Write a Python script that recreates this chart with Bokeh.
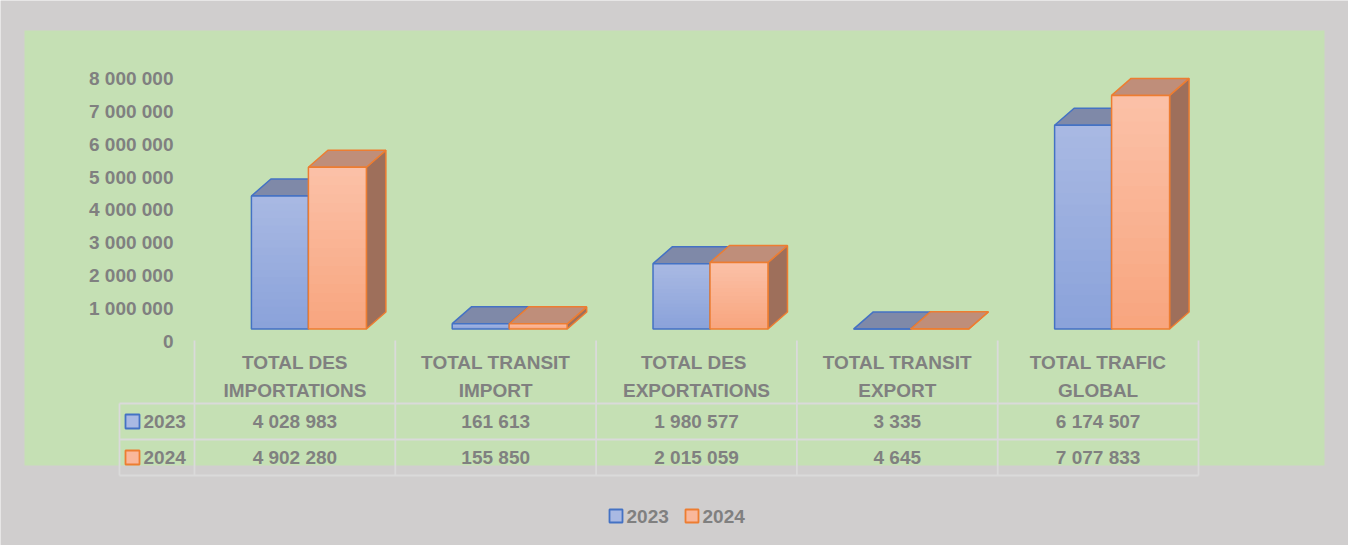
import numpy as np
from bokeh.plotting import figure
from bokeh.models import Range1d
from bokeh.core.properties import value
from bokeh.embed import file_html
from bokeh.resources import INLINE

# ---------------- data ----------------
categories = ["TOTAL DES\nIMPORTATIONS", "TOTAL TRANSIT\nIMPORT", "TOTAL  DES\nEXPORTATIONS",
              "TOTAL TRANSIT\nEXPORT", "TOTAL TRAFIC\nGLOBAL"]
series_names = ["2023", "2024"]
values_2023 = [4028983, 161613, 1980577, 3335, 6174507]
values_2024 = [4902280, 155850, 2015059, 4645, 7077833]
y_ticks = [0, 1000000, 2000000, 3000000, 4000000, 5000000, 6000000, 7000000, 8000000]


def fmt(v):
    return f"{int(v):,}".replace(",", " ")


y_tick_labels = [fmt(t) for t in y_ticks]

# ---------------- layout / style ----------------
W, H = 1348, 545
COL0, COLW = 194.0, 200.8          # table column start (px) and width (px)
BASE_PX, PX_PER_M = 328.5, 33.0    # bar baseline (px from top) and scale
AXIS0_PX, AXIS_PX_PER_M = 340.5, 32.8

GRAY = "#d0cece"
GREEN = "#c5e0b4"
TXT = "#808080"
GRID = "#dadada"
FONT = value("Liberation Sans")
FS = "19px"

series_style = [
    dict(edge="#4472c4", top_c=(0xa9, 0xb9, 0xe3), bot_c=(0x8a, 0xa2, 0xda),
         lid="#7f89a8", side="#6f7fa8", key="#a9b9e3", off=(-0.2166, 0.0672)),
    dict(edge="#ed7d31", top_c=(0xfb, 0xc1, 0xa8), bot_c=(0xf8, 0xa5, 0x7e),
         lid="#bf8e7a", side="#9e6f5b", key="#f9b79b", off=(0.0672, 0.356)),
]

p = figure(width=W, height=H,
           x_range=Range1d(-COL0 / COLW, (W - COL0) / COLW),
           y_range=Range1d(-(H - BASE_PX) / PX_PER_M * 1e6, BASE_PX / PX_PER_M * 1e6),
           output_backend="svg", toolbar_location=None,
           x_axis_type=None, y_axis_type=None, min_border=0, title=None)
p.background_fill_color = GRAY
p.border_fill_color = GRAY
p.outline_line_color = None
p.extra_x_ranges = {"px": Range1d(0, W)}
p.extra_y_ranges = {"px": Range1d(H, 0),
                    "axis": Range1d(-(H - AXIS0_PX) / AXIS_PX_PER_M * 1e6,
                                    AXIS0_PX / AXIS_PX_PER_M * 1e6)}

PX = dict(x_range_name="px", y_range_name="px")

# green plot area
p.quad(left=[24], right=[1324], top=[30], bottom=[465], fill_color=GREEN, line_color=None, **PX)

# y tick labels
p.text(x=[173] * len(y_ticks), y=y_ticks, text=y_tick_labels, x_range_name="px", y_range_name="axis",
       text_align="right", text_baseline="middle", text_font=FONT, text_font_style="bold",
       text_font_size=FS, text_color=TXT)

# ---------------- 3D bars ----------------
n = len(categories)
xc = np.arange(n) + 0.5
DX = 19.5 / COLW
DY = 17.0 / PX_PER_M * 1e6
NS = 18

for vals, st in zip([values_2023, values_2024], series_style):
    vals = np.array(vals, dtype=float)
    left = xc + st["off"][0]
    right = xc + st["off"][1]
    # side face
    p.patches(xs=[[r, r + DX, r + DX, r] for r in right],
              ys=[[0, DY, v + DY, v] for v in vals],
              fill_color=st["side"], line_color=st["edge"], line_width=1.5)
    # top face
    p.patches(xs=[[l, l + DX, r + DX, r] for l, r in zip(left, right)],
              ys=[[v, v + DY, v + DY, v] for v in vals],
              fill_color=st["lid"], line_color=st["edge"], line_width=1.5)
    # front face with vertical gradient
    sl, sr, stp, cols = [], [], [], []
    for k in range(NS - 1, -1, -1):
        f = (k + 0.5) / NS
        c = tuple(int(round(b + (t - b) * f)) for b, t in zip(st["bot_c"], st["top_c"]))
        for l, r, v in zip(left, right, vals):
            sl.append(l); sr.append(r); stp.append(v * (k + 1) / NS)
            cols.append("#%02x%02x%02x" % c)
    p.quad(left=sl, right=sr, top=stp, bottom=[0] * len(sl), fill_color=cols, line_color=None)
    p.quad(left=left, right=right, top=vals, bottom=[0] * n, fill_color=None,
           line_color=st["edge"], line_width=1.5)

# ---------------- data table ----------------
bounds_px = [COL0 + COLW * k for k in range(n + 1)]
TBL_LEFT, TBL_RIGHT = 119, bounds_px[-1]
ROW_LINES = [403, 439, 475]
TBL_TOP = 340

p.segment(x0=[TBL_LEFT] * 3, x1=[TBL_RIGHT] * 3, y0=ROW_LINES, y1=ROW_LINES,
          line_color=GRID, line_width=1.8, **PX)
p.segment(x0=bounds_px + [TBL_LEFT], x1=bounds_px + [TBL_LEFT],
          y0=[TBL_TOP] * (n + 1) + [ROW_LINES[0]], y1=[ROW_LINES[-1]] * (n + 2),
          line_color=GRID, line_width=1.8, **PX)

centers_px = [COL0 + COLW * (i + 0.5) for i in range(n)]
line1 = [c.split("\n")[0] for c in categories]
line2 = [c.split("\n")[1] for c in categories]
txt_kw = dict(text_font=FONT, text_font_style="bold", text_font_size=FS, text_color=TXT,
              text_baseline="middle")
p.text(x=centers_px, y=[362] * n, text=line1, text_align="center", **txt_kw, **PX)
p.text(x=centers_px, y=[390] * n, text=line2, text_align="center", **txt_kw, **PX)

row_y = [421, 457]
for ry, vals, st, name in zip(row_y, [values_2023, values_2024], series_style, series_names):
    p.text(x=centers_px, y=[ry] * n, text=[fmt(v) for v in vals], text_align="center", **txt_kw, **PX)
    p.quad(left=[125], right=[139], top=[ry - 7], bottom=[ry + 7], fill_color=st["key"],
           line_color=st["edge"], line_width=1.8, **PX)
    p.text(x=[143], y=[ry], text=[name], text_align="left", **txt_kw, **PX)

# ---------------- bottom legend ----------------
leg_x = [609, 685]
for lx, st, name in zip(leg_x, series_style, series_names):
    p.quad(left=[lx], right=[lx + 13], top=[509], bottom=[522], fill_color=st["key"],
           line_color=st["edge"], line_width=1.8, **PX)
    p.text(x=[lx + 17], y=[515.5], text=[name], text_align="left", **txt_kw, **PX)

open("out.html", "w").write(file_html(p, INLINE))
